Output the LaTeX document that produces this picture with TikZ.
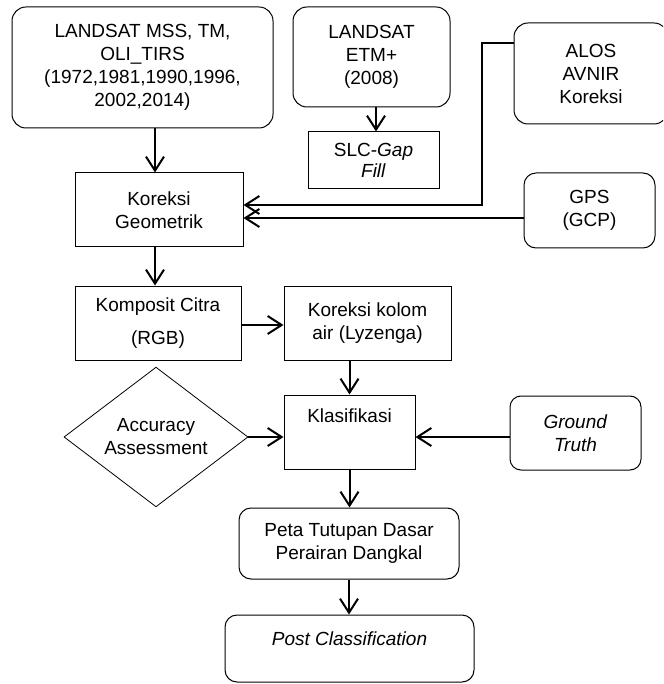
\documentclass[tikz,border=0pt]{standalone}
\usepackage{fontspec}
\setmainfont{Liberation Sans}
\usetikzlibrary{arrows.meta,shapes.geometric}
\begin{document}
\begin{tikzpicture}[x=1pt,y=-1pt,
  font=\fontsize{19}{23}\selectfont,
  box/.style={draw, line width=1pt, inner sep=0pt, align=center},
  rbox/.style={box, rounded corners=14pt},
  arr/.style={line width=2pt, -{Straight Barb[length=14pt,width=18pt]}}]
\useasboundingbox (0,0) rectangle (663,684);

\node[rbox, minimum width=261pt, minimum height=121pt] (b1) at (142.5,67.5)
  {LANDSAT MSS, TM,\\OLI\_TIRS\\(1972,1981,1990,1996,\\2002,2014)};
\node[rbox, minimum width=157pt, minimum height=100pt] (b2) at (371.5,57)
  {LANDSAT\\ETM+\\(2008)};
\node[box, minimum width=131pt, minimum height=57pt, font=\fontsize{19}{21}\selectfont] (slc) at (373.5,160.5)
  {SLC-\textit{Gap}\\\textit{Fill}};
\begin{scope}
  \clip (0,0) rectangle (663,684);
  \node[rbox, minimum width=154pt, minimum height=101pt] (alos) at (591,73.5)
    {ALOS\\AVNIR\\Koreksi};
\end{scope}
\node[rbox, rounded corners=12pt, minimum width=131pt, minimum height=75pt] (gps) at (589.5,210.5)
  {GPS\\(GCP)};
\node[box, minimum width=168pt, minimum height=74pt] (kg) at (159,210)
  {Koreksi\\Geometrik};
\node[box, minimum width=166pt, minimum height=74pt] (komp) at (158,323)
  {Komposit Citra\\[10pt](RGB)};
\node[box, minimum width=167pt, minimum height=74pt] (kolom) at (367.5,323)
  {Koreksi kolom\\air (Lyzenga)};
\node[draw, line width=0.8pt, diamond, inner sep=0pt, align=center,
  minimum width=184pt, minimum height=126pt] (acc) at (156,437)
  {Accuracy\\Assessment};
\node[box, minimum width=131pt, text height=27pt, text depth=47pt] (klas) at (349.5,432)
  {Klasifikasi};
\node[rbox, rounded corners=11pt, minimum width=131pt, minimum height=74pt] (gt) at (575.5,433)
  {\textit{Ground}\\\textit{Truth}};
\node[rbox, rounded corners=12pt, minimum width=220pt, minimum height=71pt] (peta) at (349,543.5)
  {Peta Tutupan Dasar\\Perairan Dangkal};
\node[rbox, rounded corners=12pt, minimum width=249pt, text height=30pt, text depth=37pt] (post) at (349.5,648.5)
  {\textit{Post Classification}};

\draw[arr] ([xshift=12.5pt]b1.south) -- ([xshift=-4pt]kg.north);
\draw[arr] ([xshift=4.5pt]b2.south) -- ([xshift=2.5pt]slc.north);
\draw[arr] ([yshift=30.5pt]alos.west) -- ++(-32,0) |- ([yshift=5pt]kg.east);
\draw[arr] ([yshift=-8pt]kg.east -| gps.west) -- ([yshift=-8pt]kg.east);
\draw[arr] ([xshift=-4pt]kg.south) -- ([xshift=-3pt]komp.north);
\draw[arr] ([yshift=-2pt]komp.east) -- ([yshift=-2pt]komp.east -| kolom.west);
\draw[arr] (klas.north |- kolom.south) -- (klas.north);
\draw[arr] (acc.east) -- (acc.east -| klas.west);
\draw[arr] ([yshift=-4pt]gt.west) -- ([yshift=-4pt]gt.west -| klas.east);
\draw[arr] (klas.south) -- (klas.south |- peta.north);
\draw[arr] (peta.south) -- (peta.south |- post.north);
\end{tikzpicture}
\end{document}
